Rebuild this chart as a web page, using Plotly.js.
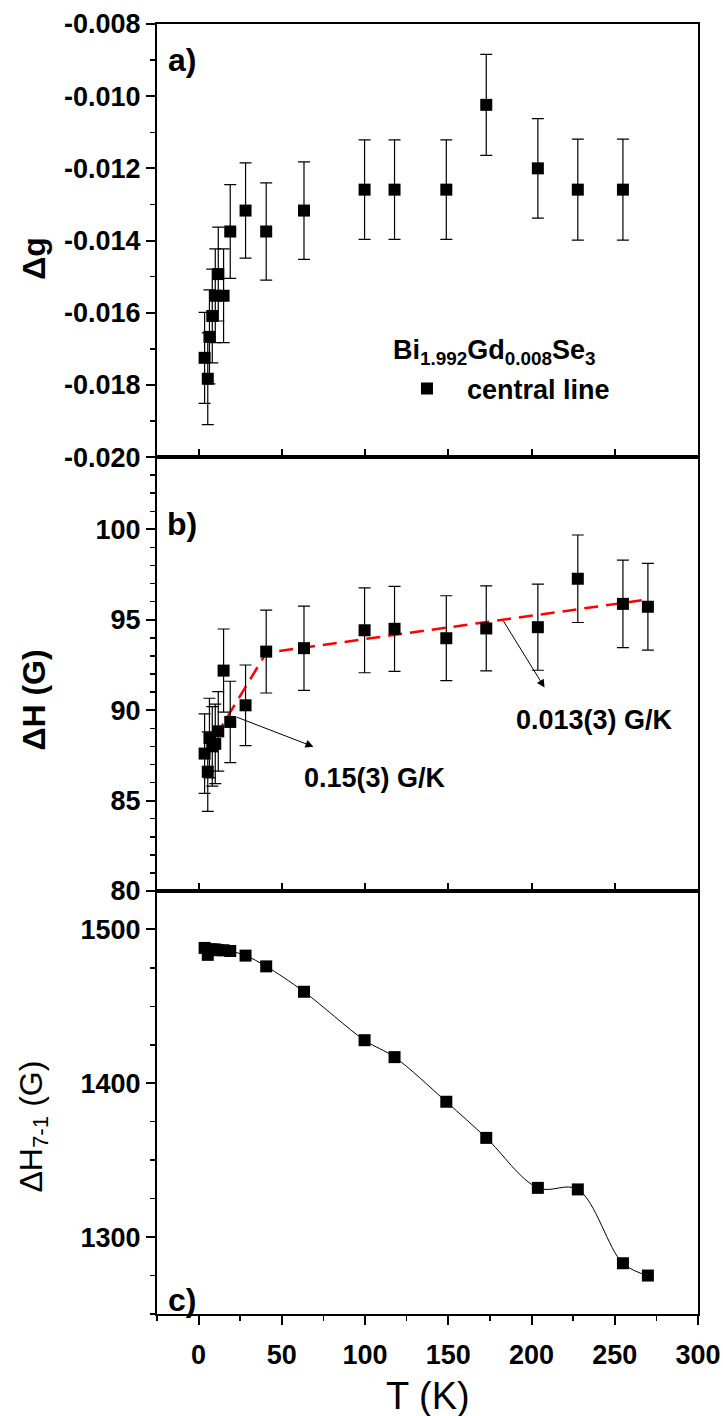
<!DOCTYPE html>
<html>
<head>
<meta charset="utf-8">
<script src="https://cdn.plot.ly/plotly-3.0.1.min.js"></script>
<style>html,body{margin:0;padding:0;background:#fff;}</style>
</head>
<body>
<div id="chart" style="width:723px;height:1416px;"></div>
<script>
// ---- data ----
const T_a = [3.6, 5.5, 6.5, 8.2, 10, 11.8, 15, 19, 28.2, 40.6, 63.3, 99.7, 117.7, 148.8, 172.8, 203.8, 227.8, 254.9];
const deltaG = [-0.01725, -0.01783, -0.01667, -0.01609, -0.01553, -0.01493, -0.01553, -0.01375, -0.01317, -0.01375, -0.01317, -0.01259, -0.01259, -0.01259, -0.01024, -0.0120, -0.01259, -0.01259];
const deltaGErr = [0.00126, 0.00127, 0.0013, 0.0013, 0.0013, 0.0013, 0.0013, 0.0013, 0.00132, 0.00135, 0.00135, 0.00138, 0.00138, 0.00138, 0.0014, 0.00138, 0.0014, 0.0014];

const T_b = [3.6, 5.5, 6.5, 8.2, 10, 11.8, 15, 19, 28.2, 40.6, 63.3, 99.7, 117.7, 148.8, 172.8, 203.8, 227.8, 254.9, 269.9];
const deltaH = [87.6, 86.6, 88.46, 88.0, 88.14, 88.83, 92.19, 89.35, 90.27, 93.24, 93.43, 94.42, 94.5, 93.98, 94.52, 94.59, 97.27, 95.88, 95.72];
const deltaHErr = [2.2, 2.2, 2.2, 2.2, 2.2, 2.2, 2.3, 2.25, 2.23, 2.29, 2.33, 2.35, 2.35, 2.35, 2.35, 2.38, 2.42, 2.42, 2.4];

const fitT = [3.6, 40.6, 268];
const fitH = [87.55, 93.17, 96.1];

const T_c = [3.6, 5.5, 6.5, 8.2, 10, 11.8, 15, 19, 28.2, 40.6, 63.3, 99.7, 117.7, 148.8, 172.8, 203.8, 227.8, 254.9, 269.9];
const deltaH71 = [1488, 1483.5, 1487, 1487, 1487, 1486.5, 1486.5, 1486, 1483, 1476, 1459.5, 1428, 1417, 1388, 1364.5, 1332, 1331, 1283, 1275];

const xTickVals = [0, 50, 100, 150, 200, 250, 300];
const xTickText = ["0", "50", "100", "150", "200", "250", "300"];
const yaTickVals = [-0.020, -0.018, -0.016, -0.014, -0.012, -0.010, -0.008];
const yaTickText = ["-0.020", "-0.018", "-0.016", "-0.014", "-0.012", "-0.010", "-0.008"];
const ybTickVals = [80, 85, 90, 95, 100];
const ycTickVals = [1300, 1400, 1500];

// ---- styles ----
const FONT = "Liberation Sans, Arial, Helvetica, sans-serif";
const tickFont = {family: FONT, size: 27, color: "#000", weight: 700};
const markerStyle = {symbol: "square", size: 12, color: "#000"};
const errStyle = {type: "data", visible: true, color: "#000", thickness: 1.2, width: 6};

const traces = [
  {x: T_a, y: deltaG, error_y: Object.assign({array: deltaGErr}, errStyle), mode: "markers", type: "scatter",
   marker: markerStyle, xaxis: "x", yaxis: "y", name: "central line", showlegend: true},
  {x: fitT, y: fitH, mode: "lines", type: "scatter", line: {color: "#ff0000", width: 2.5, dash: "14px,8px"},
   xaxis: "x2", yaxis: "y2", showlegend: false},
  {x: T_b, y: deltaH, error_y: Object.assign({array: deltaHErr}, errStyle), mode: "markers", type: "scatter",
   marker: markerStyle, xaxis: "x2", yaxis: "y2", showlegend: false},
  {x: T_c, y: deltaH71, mode: "lines+markers", type: "scatter", line: {color: "#000", width: 1, shape: "spline", smoothing: 1},
   marker: markerStyle, xaxis: "x3", yaxis: "y3", showlegend: false}
];

const baseX = {range: [-25, 300], showline: true, linecolor: "#000", linewidth: 2, mirror: true,
  zeroline: false, showgrid: false, tickvals: xTickVals, ticktext: xTickText};
const baseY = {showline: true, linecolor: "#000", linewidth: 2, mirror: true, zeroline: false, showgrid: false,
  ticks: "outside", ticklen: 9, tickwidth: 2, tickcolor: "#000", tickfont: tickFont};

const dA = [0.6643, 1], dB = [0.3279, 0.6643], dC = [0, 0.3279];

const layout = {
  width: 723, height: 1416,
  margin: {l: 157, r: 25, t: 24, b: 102},
  paper_bgcolor: "#fff", plot_bgcolor: "#fff",
  showlegend: true,
  legend: {x: 0.4251, y: 0.736, xanchor: "left", yanchor: "top", bgcolor: "rgba(0,0,0,0)",
    font: {family: FONT, size: 27, color: "#000", weight: 700}, itemwidth: 70},
  xaxis: Object.assign({}, baseX, {domain: [0, 1], anchor: "y", showticklabels: false, ticks: "inside", ticklen: 8, tickwidth: 2, tickcolor: "#000"}),
  xaxis2: Object.assign({}, baseX, {domain: [0, 1], anchor: "y2", showticklabels: false, ticks: "inside", ticklen: 8, tickwidth: 2, tickcolor: "#000"}),
  xaxis3: Object.assign({}, baseX, {domain: [0, 1], anchor: "y3", ticks: "outside", ticklen: 9, tickwidth: 2, tickcolor: "#000",
    minor: {dtick: 25, tick0: 0, ticks: "outside", ticklen: 5, tickwidth: 1.5, tickcolor: "#000"},
    tickfont: tickFont, ticklabelstandoff: 7}),
  yaxis: Object.assign({}, baseY, {domain: dA, anchor: "x", range: [-0.020, -0.008], tickvals: yaTickVals, ticktext: yaTickText,
    minor: {dtick: 0.001, tick0: -0.020, ticks: "outside", ticklen: 5, tickwidth: 1.5, tickcolor: "#000"}}),
  yaxis2: Object.assign({}, baseY, {domain: dB, anchor: "x2", range: [80, 104], tickvals: ybTickVals,
    minor: {dtick: 1, tick0: 80, ticks: "outside", ticklen: 5, tickwidth: 1.5, tickcolor: "#000"}}),
  yaxis3: Object.assign({}, baseY, {domain: dC, anchor: "x3", range: [1250, 1525], tickvals: ycTickVals,
    minor: {dtick: 25, tick0: 1250, ticks: "outside", ticklen: 5, tickwidth: 1.5, tickcolor: "#000"}}),
  annotations: [
    {xref: "paper", yref: "paper", x: 0.5, y: -0.0635, xanchor: "center", yanchor: "middle", text: "T (K)", showarrow: false,
     font: {family: FONT, size: 38, color: "#000"}},
    {xref: "paper", yref: "paper", x: -0.228, y: 0.8186, xanchor: "center", yanchor: "middle", text: "<b>Δg</b>", showarrow: false, textangle: -90,
     font: {family: FONT, size: 32, color: "#000"}},
    {xref: "paper", yref: "paper", x: -0.228, y: 0.476, xanchor: "center", yanchor: "middle", text: "<b>ΔH (G)</b>", showarrow: false, textangle: -90,
     font: {family: FONT, size: 32, color: "#000"}},
    {xref: "paper", yref: "paper", x: -0.228, y: 0.145, xanchor: "center", yanchor: "middle", text: "ΔH<sub>7-1</sub> (G)", showarrow: false, textangle: -90,
     font: {family: FONT, size: 32, color: "#000"}},
    {xref: "paper", yref: "paper", x: 0.0462, y: 0.9721, xanchor: "center", yanchor: "middle", text: "<b>a)</b>", showarrow: false,
     font: {family: FONT, size: 32, color: "#000"}},
    {xref: "paper", yref: "paper", x: 0.0462, y: 0.6124, xanchor: "center", yanchor: "middle", text: "<b>b)</b>", showarrow: false,
     font: {family: FONT, size: 32, color: "#000"}},
    {xref: "paper", yref: "paper", x: 0.0462, y: 0.0109, xanchor: "center", yanchor: "middle", text: "<b>c)</b>", showarrow: false,
     font: {family: FONT, size: 32, color: "#000"}},
    {xref: "paper", yref: "paper", x: 0.623, y: 0.7457, xanchor: "center", yanchor: "middle", text: "<b>Bi<sub>1.992</sub>Gd<sub>0.008</sub>Se<sub>3</sub></b>", showarrow: false,
     font: {family: FONT, size: 27, color: "#000"}},
    {xref: "paper", yref: "paper", x: 0.403, y: 0.4155, xanchor: "center", yanchor: "middle", text: "<b>0.15(3) G/K</b>", showarrow: false,
     font: {family: FONT, size: 27, color: "#000"}},
    {xref: "paper", yref: "paper", x: 0.8096, y: 0.4605, xanchor: "center", yanchor: "middle", text: "<b>0.013(3) G/K</b>", showarrow: false,
     font: {family: FONT, size: 27, color: "#000"}},
    {xref: "x2", yref: "y2", axref: "x2", ayref: "y2", x: 69, y: 87.98, ax: 22.2, ay: 89.64, text: "",
     showarrow: true, arrowhead: 2, arrowsize: 1.6, arrowwidth: 1, arrowcolor: "#000"},
    {xref: "x2", yref: "y2", axref: "x2", ayref: "y2", x: 207.8, y: 91.25, ax: 182.6, ay: 95.01, text: "",
     showarrow: true, arrowhead: 2, arrowsize: 1.6, arrowwidth: 1, arrowcolor: "#000"}
  ]
};

Plotly.newPlot("chart", traces, layout, {displayModeBar: false, staticPlot: true});
</script>
</body>
</html>
